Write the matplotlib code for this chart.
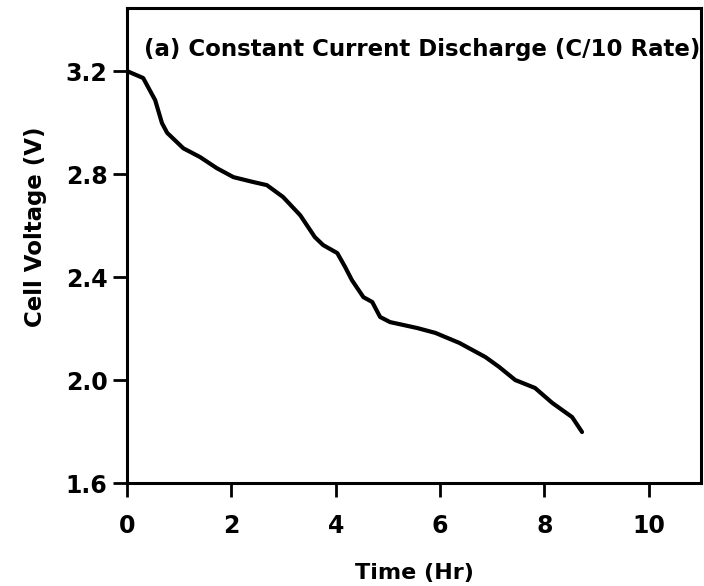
import matplotlib.pyplot as plt
import numpy as np

plt.rcParams['font.family'] = ['DejaVu Sans']
plt.rcParams['font.weight'] = 'bold'

# discharge curve
time_hr = [0, 0.31, 0.54, 0.67, 0.77, 1.08, 1.40, 1.72, 2.04, 2.42, 2.68, 2.99,
           3.32, 3.60, 3.76, 4.03, 4.18, 4.31, 4.53, 4.70, 4.85, 5.04, 5.29, 5.56,
           5.91, 6.37, 6.87, 7.13, 7.44, 7.82, 8.15, 8.53, 8.72]
voltage = [3.2, 3.173, 3.087, 2.998, 2.96, 2.90, 2.866, 2.823, 2.788, 2.769, 2.757, 2.711,
           2.64, 2.555, 2.524, 2.493, 2.439, 2.388, 2.322, 2.303, 2.245, 2.225, 2.214, 2.202,
           2.183, 2.144, 2.089, 2.051, 2.0, 1.969, 1.911, 1.856, 1.798]

x_ticks = [0, 2, 4, 6, 8, 10]
y_ticks = [1.6, 2.0, 2.4, 2.8, 3.2]
y_labels = ['1.6', '2.0', '2.4', '2.8', '3.2']

fig = plt.figure(figsize=(7.04, 5.86), dpi=100)
ax = fig.add_axes([127/704, 103/586, 574/704, 475/586])

ax.plot(time_hr, voltage, color='k', lw=3, solid_joinstyle='round', solid_capstyle='round')

ax.set_xlim(0, 11)
ax.set_ylim(1.6, 3.445)
ax.set_xticks(x_ticks)
ax.set_yticks(y_ticks)
ax.set_yticklabels(y_labels)

for s in ax.spines.values():
    s.set_linewidth(2.2)
ax.tick_params(axis='both', direction='out', length=10, width=2, labelsize=17)
ax.tick_params(axis='x', pad=12)
ax.tick_params(axis='y', pad=4)

ax.set_xlabel('Time (Hr)', fontsize=16, fontweight='bold', labelpad=18)
ax.set_ylabel('Cell Voltage (V)', fontsize=16.5, fontweight='bold')
ax.yaxis.set_label_coords(-0.14, 0.54)

ax.text(0.029, 0.9116, '(a) Constant Current Discharge (C/10 Rate)', transform=ax.transAxes,
        fontsize=16.5, fontweight='bold', va='center', ha='left')

fig.savefig('out.png', dpi=100)
